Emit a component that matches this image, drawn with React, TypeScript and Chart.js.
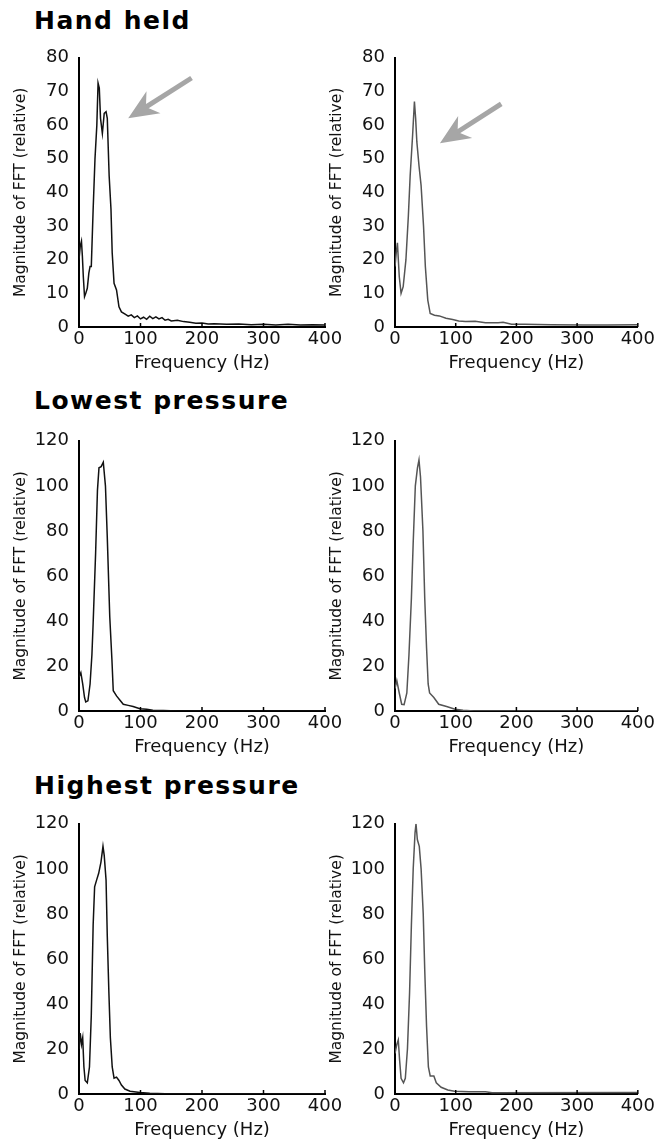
import React, { useEffect, useRef } from 'react';
import { Chart, registerables } from 'chart.js';

Chart.register(...registerables);
Chart.defaults.font.family = "'DejaVu Sans', sans-serif";
Chart.defaults.color = '#111';

// ---------- data ----------
const xTickValues = [0, 100, 200, 300, 400];
const yTicksHand = [0, 10, 20, 30, 40, 50, 60, 70, 80];
const yTicksPressure = [0, 20, 40, 60, 80, 100, 120];

const sectionTitles = ['Hand held', 'Lowest pressure', 'Highest pressure'];
const xAxisTitle = 'Frequency (Hz)';
const yAxisTitle = 'Magnitude of FFT (relative)';

// Hand held, left
const handLeftFreq = [0, 2, 4, 5.5, 7, 9, 11, 13.5, 16, 18, 20, 23, 26, 29, 31, 33, 35, 38, 41, 44, 46, 49, 52, 54, 57, 61, 65, 69, 75, 80, 85, 90, 95, 100, 105, 110, 115, 120, 125, 130, 135, 140, 145, 150, 160, 170, 180, 190, 200, 210, 220, 240, 260, 280, 300, 320, 340, 360, 380, 400];
const handLeftMag = [20, 24, 25.5, 21, 15, 9, 10, 11.5, 16, 18, 18, 35, 50, 60, 72.5, 71, 62, 57.5, 63.5, 64, 62, 45, 35, 22, 13, 11, 6, 4.5, 3.8, 3.2, 3.6, 2.8, 3.3, 2.4, 2.9, 2.3, 3.2, 2.5, 3.0, 2.4, 2.8, 2.0, 2.3, 1.8, 2.0, 1.6, 1.4, 1.1, 1.2, 0.9, 1.0, 0.8, 0.9, 0.7, 0.8, 0.6, 0.8, 0.6, 0.7, 0.6];
// Hand held, right
const handRightFreq = [0, 2, 4, 5.5, 7, 10, 13.5, 18, 22, 25, 29, 32, 34, 36, 39.5, 43, 47, 50, 54, 58, 65, 73, 84, 95, 105, 116, 132, 149, 170, 178, 192, 214, 257, 311, 350, 400];
const handRightMag = [18, 22, 25, 20, 15, 10, 12, 20, 33, 45, 57, 67, 62, 55, 48, 42, 30, 18, 8, 4, 3.5, 3.3, 2.6, 2.2, 1.8, 1.6, 1.7, 1.3, 1.3, 1.4, 0.8, 0.8, 0.7, 0.6, 0.6, 0.7];
// Lowest pressure, left
const lowLeftFreq = [0, 3, 6, 9, 11, 14.5, 18, 21, 23, 27, 30, 32.5, 36, 39.5, 43, 46, 50, 53.5, 55.7, 61, 66, 72, 80, 88, 99, 110, 120, 137, 160, 400];
const lowLeftMag = [15, 17, 12, 6, 4, 4.5, 12, 25, 39, 70, 98, 108, 108.5, 110.5, 100, 77, 42, 23, 9, 6.7, 5, 3, 2.5, 2, 1, 0.8, 0.3, 0.2, 0, 0];
// Lowest pressure, right
const lowRightFreq = [0, 3, 7, 11, 15, 19.5, 23, 27, 30, 33.5, 37, 39.5, 42, 46, 49, 52, 54.6, 57, 64, 72, 85, 99, 112, 130, 400];
const lowRightMag = [10, 13.5, 8, 3, 2.8, 8, 25, 50, 75, 100, 108, 111.5, 104, 80, 50, 28, 12, 8, 6, 3, 2, 0.8, 0.3, 0, 0];
// Highest pressure, left
const highLeftFreq = [0, 2, 4, 6, 8, 10, 13.5, 17, 20, 23, 25.4, 28.6, 32, 35.7, 39, 41, 44, 46, 48.6, 51, 54, 57, 61, 65, 69, 74.6, 83, 99, 115, 140, 400];
const highLeftMag = [20, 27, 22, 25, 12, 6, 5, 12, 35, 75, 92, 95, 98, 103, 110, 106, 95, 70, 45, 25, 12, 7, 7.5, 6, 4, 2.2, 1.2, 0.7, 0.3, 0.1, 0.1];
// Highest pressure, right
const highRightFreq = [0, 3, 5.4, 7.6, 10, 14, 17, 20.5, 24, 27, 30, 33, 34.6, 36.8, 40, 43, 46.5, 49, 52, 55, 58, 64, 68, 76, 87, 98, 122, 149, 160, 400];
const highRightMag = [18, 22, 24, 15, 7, 5, 7, 20, 45, 75, 100, 116, 120, 113, 110, 100, 80, 55, 30, 12, 8, 8, 5, 3, 1.8, 1.2, 1, 1, 0.6, 0.7];

// arrows: [tailHz, tailMag, tipHz, tipMag]
const handLeftArrow = [183, 74, 80, 62];
const handRightArrow = [175, 66.3, 74, 54.6];

// ---------- layout ----------
type PanelDef = {
  freq: number[];
  mag: number[];
  color: string;
  yMax: number;
  yTicks: number[];
  left: number;
  areaTop: number;
  areaBottom: number;
  width: number;
  padRight: number;
  arrow?: number[];
};

const AXIS_BOX_W = 79;
const X_BOX_H = 50;
const PAD_TOP = 10;

const panels: PanelDef[] = [
  { freq: handLeftFreq, mag: handLeftMag, color: '#111', yMax: 80, yTicks: yTicksHand, left: 0, areaTop: 47, areaBottom: 327, width: 345, padRight: 20, arrow: handLeftArrow },
  { freq: handRightFreq, mag: handRightMag, color: '#555', yMax: 80, yTicks: yTicksHand, left: 316, areaTop: 47, areaBottom: 327, width: 341, padRight: 16, arrow: handRightArrow },
  { freq: lowLeftFreq, mag: lowLeftMag, color: '#111', yMax: 120, yTicks: yTicksPressure, left: 0, areaTop: 430, areaBottom: 711, width: 345, padRight: 20 },
  { freq: lowRightFreq, mag: lowRightMag, color: '#555', yMax: 120, yTicks: yTicksPressure, left: 316, areaTop: 430, areaBottom: 711, width: 341, padRight: 16 },
  { freq: highLeftFreq, mag: highLeftMag, color: '#111', yMax: 120, yTicks: yTicksPressure, left: 0, areaTop: 813, areaBottom: 1094, width: 345, padRight: 20 },
  { freq: highRightFreq, mag: highRightMag, color: '#555', yMax: 120, yTicks: yTicksPressure, left: 316, areaTop: 813, areaBottom: 1094, width: 341, padRight: 16 },
];

const titleTops = [8, 388, 773];

const inwardTicks = {
  id: 'inwardTicks',
  afterDraw(chart: any) {
    const { ctx, chartArea } = chart;
    const xs = chart.scales.x;
    ctx.save();
    ctx.strokeStyle = '#000';
    ctx.lineWidth = 1.5;
    xs.ticks.forEach((t: any) => {
      if (t.value === 0) return;
      const px = xs.getPixelForValue(t.value);
      ctx.beginPath();
      ctx.moveTo(px, chartArea.bottom);
      ctx.lineTo(px, chartArea.bottom - 4);
      ctx.stroke();
    });
    ctx.restore();
  },
};

function makeArrowPlugin(arrow?: number[]) {
  return {
    id: 'arrowAnno',
    afterDatasetsDraw(chart: any) {
      if (!arrow) return;
      const { ctx } = chart;
      const xs = chart.scales.x;
      const ys = chart.scales.y;
      const x0 = xs.getPixelForValue(arrow[0]);
      const y0 = ys.getPixelForValue(arrow[1]);
      const x1 = xs.getPixelForValue(arrow[2]);
      const y1 = ys.getPixelForValue(arrow[3]);
      const dx = x1 - x0;
      const dy = y1 - y0;
      const len = Math.hypot(dx, dy);
      const ux = dx / len;
      const uy = dy / len;
      const nx = -uy;
      const ny = ux;
      const headLen = 30;
      const halfW = 13;
      const notch = 9;
      const bx = x1 - ux * headLen;
      const by = y1 - uy * headLen;
      const mx = x1 - ux * (headLen - notch);
      const my = y1 - uy * (headLen - notch);
      ctx.save();
      ctx.strokeStyle = '#a6a6a6';
      ctx.fillStyle = '#a6a6a6';
      ctx.lineWidth = 5;
      ctx.lineCap = 'butt';
      ctx.beginPath();
      ctx.moveTo(x0, y0);
      ctx.lineTo(mx + ux * 2, my + uy * 2);
      ctx.stroke();
      ctx.beginPath();
      ctx.moveTo(x1, y1);
      ctx.lineTo(bx + nx * halfW, by + ny * halfW);
      ctx.lineTo(mx, my);
      ctx.lineTo(bx - nx * halfW, by - ny * halfW);
      ctx.closePath();
      ctx.fill();
      ctx.restore();
    },
  };
}

function FftPanel({ p }: { p: PanelDef }) {
  const ref = useRef<HTMLCanvasElement>(null);
  const top = p.areaTop - PAD_TOP;
  const height = p.areaBottom - p.areaTop + PAD_TOP + X_BOX_H;

  useEffect(() => {
    if (!ref.current) return;
    const points = p.freq.map((f, i) => ({ x: f, y: p.mag[i] }));
    const chart = new Chart(ref.current, {
      type: 'line',
      data: {
        datasets: [
          {
            data: points,
            borderColor: p.color,
            borderWidth: 1.5,
            pointRadius: 0,
            fill: false,
            tension: 0,
          },
        ],
      },
      options: {
        responsive: false,
        animation: false,
        layout: { padding: { top: PAD_TOP, right: p.padRight, bottom: 0, left: 0 } },
        plugins: { legend: { display: false }, tooltip: { enabled: false } },
        scales: {
          x: {
            type: 'linear',
            min: 0,
            max: 400,
            grid: { display: false, drawTicks: false },
            border: { display: true, color: '#000', width: 2 },
            ticks: { padding: 2, font: { size: 18 }, color: '#111', maxRotation: 0, autoSkip: false },
            afterBuildTicks: (s: any) => {
              s.ticks = xTickValues.map((v) => ({ value: v }));
            },
            afterFit: (s: any) => {
              s.height = X_BOX_H;
            },
            title: {
              display: true,
              text: xAxisTitle,
              font: { size: 18 },
              color: '#111',
              padding: { top: 0, bottom: 3 },
            },
          },
          y: {
            type: 'linear',
            min: 0,
            max: p.yMax,
            grid: { display: false, drawTicks: false },
            border: { display: true, color: '#000', width: 2 },
            ticks: { padding: 10, font: { size: 18 }, color: '#111', autoSkip: false },
            afterBuildTicks: (s: any) => {
              s.ticks = p.yTicks.map((v) => ({ value: v }));
            },
            afterFit: (s: any) => {
              s.width = AXIS_BOX_W;
            },
            title: {
              display: true,
              text: yAxisTitle,
              font: { size: 15.5 },
              color: '#111',
              padding: { top: 12, bottom: 0 },
            },
          },
        },
      },
      plugins: [inwardTicks, makeArrowPlugin(p.arrow)],
    } as any);
    return () => chart.destroy();
  }, []);

  return (
    <canvas
      ref={ref}
      width={p.width}
      height={height}
      style={{ position: 'absolute', left: p.left, top, width: p.width, height }}
    />
  );
}

export default function App() {
  return (
    <div
      style={{
        position: 'absolute',
        left: 0,
        top: 0,
        width: 657,
        height: 1140,
        overflow: 'hidden',
        background: '#fff',
      }}
    >
      {sectionTitles.map((t, i) => (
        <div
          key={t}
          style={{
            position: 'absolute',
            left: 34,
            top: titleTops[i],
            font: "bold 25px 'DejaVu Sans', sans-serif",
            lineHeight: '25px',
            letterSpacing: '1.5px',
            whiteSpace: 'nowrap',
            color: '#000',
          }}
        >
          {t}
        </div>
      ))}
      {panels.map((p, i) => (
        <FftPanel key={i} p={p} />
      ))}
    </div>
  );
}
